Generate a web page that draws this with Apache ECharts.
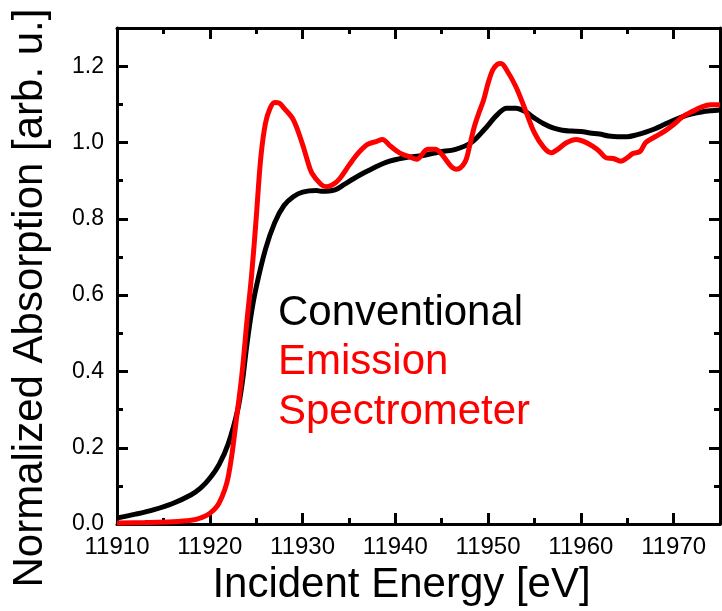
<!DOCTYPE html>
<html>
<head>
<meta charset="utf-8">
<script src="https://cdn.jsdelivr.net/npm/echarts@6/dist/echarts.min.js"></script>
<style>
  html, body { margin: 0; padding: 0; background: #fff; }
  #chart { width: 722px; height: 611px; }
</style>
</head>
<body>
<div id="chart"></div>
<script>
// Conventional XANES (transmission) spectrum
const energyConventional = [11910, 11912, 11914, 11916, 11918, 11919, 11920, 11921, 11922, 11923, 11923.5,
  11924, 11924.5, 11925, 11926, 11927, 11928, 11929, 11930, 11931.5, 11932, 11933.5, 11934.5, 11935.5,
  11937, 11939, 11941, 11943, 11944.7, 11946.5, 11948.2, 11949.6, 11951, 11952, 11953, 11954, 11955,
  11956, 11957, 11958, 11959, 11960, 11961, 11962, 11963, 11964, 11965, 11966, 11967, 11968, 11969,
  11970, 11971, 11972, 11973, 11974, 11975];
const absConventional = [0.016, 0.026, 0.038, 0.054, 0.077, 0.094, 0.12, 0.156, 0.211, 0.298, 0.37,
  0.47, 0.555, 0.62, 0.72, 0.79, 0.835, 0.858, 0.87, 0.874, 0.872, 0.876, 0.89, 0.905,
  0.925, 0.948, 0.96, 0.966, 0.975, 0.982, 1.0, 1.034, 1.073, 1.09, 1.09, 1.081, 1.064,
  1.049, 1.038, 1.032, 1.03, 1.029, 1.025, 1.022, 1.017, 1.015, 1.015, 1.02, 1.027, 1.036, 1.047,
  1.058, 1.068, 1.075, 1.08, 1.083, 1.085];

// HERFD spectrum recorded with the emission spectrometer
const energyEmission = [11910, 11913, 11916, 11918, 11919, 11920, 11921, 11922, 11923, 11923.5, 11924,
  11924.5, 11925, 11925.5, 11926, 11926.5, 11927, 11927.5, 11928, 11929, 11930, 11930.5, 11931,
  11932, 11932.6, 11933.3, 11934, 11935, 11936, 11937, 11938, 11938.6, 11939.5, 11940.5, 11941.5,
  11942.3, 11943.5, 11944.3, 11945, 11946, 11946.6, 11947.5, 11948, 11948.5, 11949, 11949.5, 11950,
  11950.5, 11951, 11951.4, 11952, 11953, 11954, 11955, 11956, 11956.8, 11957.5, 11958.5, 11959.5,
  11960.3, 11961.3, 11962, 11962.7, 11963.5, 11964.3, 11965, 11965.6, 11966.4, 11967, 11968, 11969,
  11970, 11971, 11972, 11973, 11974, 11975];
const absEmission = [0.003, 0.004, 0.006, 0.010, 0.016, 0.028, 0.055, 0.125, 0.30, 0.40, 0.53,
  0.65, 0.80, 0.96, 1.05, 1.09, 1.105, 1.103, 1.09, 1.06, 0.995, 0.955, 0.92,
  0.89, 0.884, 0.89, 0.905, 0.94, 0.972, 0.995, 1.003, 1.008, 0.99, 0.972, 0.963,
  0.956, 0.982, 0.982, 0.969, 0.938, 0.93, 0.948, 0.99, 1.04, 1.077, 1.11, 1.155,
  1.19, 1.205, 1.207, 1.19, 1.146, 1.086, 1.025, 0.987, 0.973, 0.982, 1.0, 1.008,
  1.003, 0.99, 0.977, 0.96, 0.958, 0.951, 0.96, 0.971, 0.977, 1.0, 1.015, 1.029,
  1.047, 1.068, 1.081, 1.093, 1.099, 1.099];

const legendLines = ['Conventional', 'Emission', 'Spectrometer'];
const legendColors = ['#000000', '#ff0000', '#ff0000'];

const xTitle = 'Incident Energy [eV]';
const yTitle = 'Normalized Absorption [arb. u.]';

const FONT = '"Liberation Sans", Arial, sans-serif';

function pairs(xs, ys) {
  return xs.map((x, i) => [x, ys[i]]);
}

const chart = echarts.init(document.getElementById('chart'), null, { renderer: 'canvas' });

const axisLine = { show: true, onZero: false, lineStyle: { color: '#000', width: 3 } };
const majorTick = { show: true, inside: true, length: 11, lineStyle: { color: '#000', width: 3 } };
const minorTick = { show: true, splitNumber: 2, length: 6, lineStyle: { color: '#000', width: 3 } };

chart.setOption({
  animation: false,
  backgroundColor: '#fff',
  grid: { left: 117, right: 2, top: 28, bottom: 83, containLabel: false },
  xAxis: [{
    type: 'value', position: 'bottom', min: 11910, max: 11975, interval: 10,
    axisLine, axisTick: majorTick, minorTick,
    splitLine: { show: false },
    axisLabel: {
      color: '#000', fontSize: 24, fontFamily: FONT, margin: 11,
      showMaxLabel: false,
      formatter: v => (v % 10 === 0 ? String(v) : '')
    },
    name: xTitle, nameLocation: 'middle', nameGap: 34,
    nameTextStyle: { color: '#000', fontSize: 42, fontFamily: FONT, padding: [0, 34, 0, 0] }
  }, {
    type: 'value', position: 'top', min: 11910, max: 11975, interval: 10,
    axisLine, axisTick: majorTick, minorTick,
    splitLine: { show: false }, axisLabel: { show: false }
  }],
  yAxis: [{
    type: 'value', position: 'left', min: 0, max: 1.3, interval: 0.2,
    axisLine, axisTick: majorTick, minorTick,
    splitLine: { show: false },
    axisLabel: {
      color: '#000', fontSize: 23, fontFamily: FONT, margin: 13,
      showMaxLabel: false,
      formatter: v => v.toFixed(1)
    },
    name: yTitle, nameLocation: 'middle', nameGap: 66,
    nameTextStyle: { color: '#000', fontSize: 42, fontFamily: FONT, padding: [0, 44, 0, 0] }
  }, {
    type: 'value', position: 'right', min: 0, max: 1.3, interval: 0.2,
    axisLine, axisTick: majorTick, minorTick,
    splitLine: { show: false }, axisLabel: { show: false }
  }],
  series: [{
    name: 'Conventional', type: 'line', xAxisIndex: 0, yAxisIndex: 0,
    data: pairs(energyConventional, absConventional),
    showSymbol: false, smooth: 0.35, clip: true,
    lineStyle: { color: '#000', width: 5 }, z: 2
  }, {
    name: 'Emission Spectrometer', type: 'line', xAxisIndex: 0, yAxisIndex: 0,
    data: pairs(energyEmission, absEmission),
    showSymbol: false, smooth: 0.35, clip: true,
    lineStyle: { color: '#ff0000', width: 5 }, z: 3
  }],
  graphic: legendLines.map((t, i) => ({
    type: 'text', left: 278, top: 292 + i * 49.5,
    style: { text: t, fill: legendColors[i], font: '42px ' + FONT }
  }))
});
</script>
</body>
</html>
